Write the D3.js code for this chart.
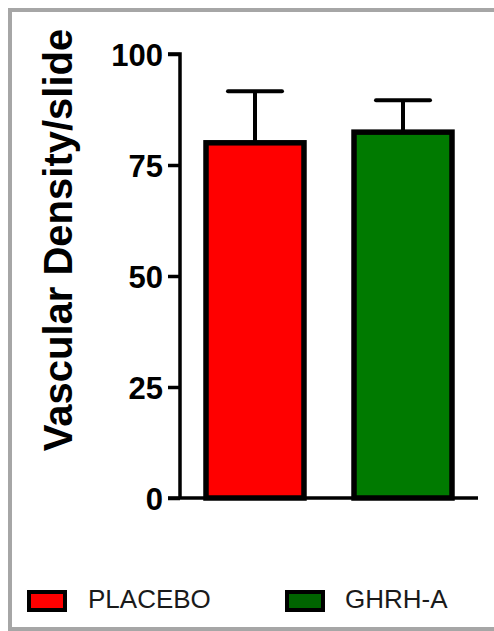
<!DOCTYPE html>
<html><head><meta charset="utf-8">
<script src="https://cdn.jsdelivr.net/npm/d3@7"></script>
<style>html,body{margin:0;padding:0;background:#fff;}svg{display:block;}</style>
</head><body>
<script>
const categories = ["PLACEBO", "GHRH-A"];
const means = [80.0, 82.4];
const errUpper = [91.6, 89.6];
const colors = ["#ff0000", "#007a00"];
const legendColors = ["#ff0000", "#006400"];
const yTicks = [0, 25, 50, 75, 100];
const yTitle = "Vascular Density/slide";

const W = 494, H = 631;
const svg = d3.select("body").append("svg").attr("width", W).attr("height", H);

// frame
svg.append("rect").attr("x", 10).attr("y", 10).attr("width", W + 10).attr("height", 619)
  .attr("fill", "#fff").attr("stroke", "#a6a6a6").attr("stroke-width", 4);

const y = d3.scaleLinear().domain([0, 100]).range([498, 54]);
const x = d3.scaleBand().domain(categories).range([183.8, 474.2]).paddingInner(0.338).paddingOuter(0.15);

// bars
const g = svg.append("g");
categories.forEach((c, i) => {
  const bx = x(c), bw = x.bandwidth(), cx = bx + bw / 2;
  g.append("line").attr("x1", cx).attr("x2", cx).attr("y1", y(means[i])).attr("y2", y(errUpper[i]))
    .attr("stroke", "#000").attr("stroke-width", 4);
  g.append("line").attr("x1", cx - 27).attr("x2", cx + 27).attr("y1", y(errUpper[i])).attr("y2", y(errUpper[i]))
    .attr("stroke", "#000").attr("stroke-width", 4).attr("stroke-linecap", "round");
  g.append("rect").attr("x", bx).attr("y", y(means[i])).attr("width", bw).attr("height", y(0) - y(means[i]))
    .attr("fill", colors[i]).attr("stroke", "#000").attr("stroke-width", 5.5);
});

// y axis
const yAxis = d3.axisLeft(y).tickValues(yTicks).tickSize(12).tickPadding(5).tickFormat(d3.format("d"));
const ya = svg.append("g").attr("transform", "translate(180,0)").call(yAxis);
ya.select(".domain").attr("stroke-width", 3.5).attr("d", "M-12," + y(100) + "H0V" + y(0));
ya.selectAll(".tick line").attr("stroke-width", 3.5);
ya.selectAll(".tick text").attr("font-family", "Liberation Sans, Arial, sans-serif")
  .attr("font-weight", "bold").attr("font-size", 31).attr("fill", "#000").attr("dy", "0.36em");

// x axis baseline
svg.append("line").attr("x1", 168).attr("x2", 478).attr("y1", y(0)).attr("y2", y(0))
  .attr("stroke", "#000").attr("stroke-width", 3.5);

// y title
svg.append("text").attr("transform", "translate(72,240) rotate(-90)")
  .attr("text-anchor", "middle").attr("font-family", "Liberation Sans, Arial, sans-serif")
  .attr("font-weight", "bold").attr("font-size", 40).attr("fill", "#000").text(yTitle);

// legend
const legX = [27, 285], textX = [88, 345];
categories.forEach((c, i) => {
  svg.append("rect").attr("x", legX[i] + 2).attr("y", 592).attr("width", 36).attr("height", 18)
    .attr("fill", legendColors[i]).attr("stroke", "#000").attr("stroke-width", 4);
  svg.append("text").attr("x", textX[i]).attr("y", 608)
    .attr("font-family", "Liberation Sans, Arial, sans-serif").attr("font-size", 26)
    .attr("fill", "#1a1a1a").text(c);
});
</script>
</body></html>
